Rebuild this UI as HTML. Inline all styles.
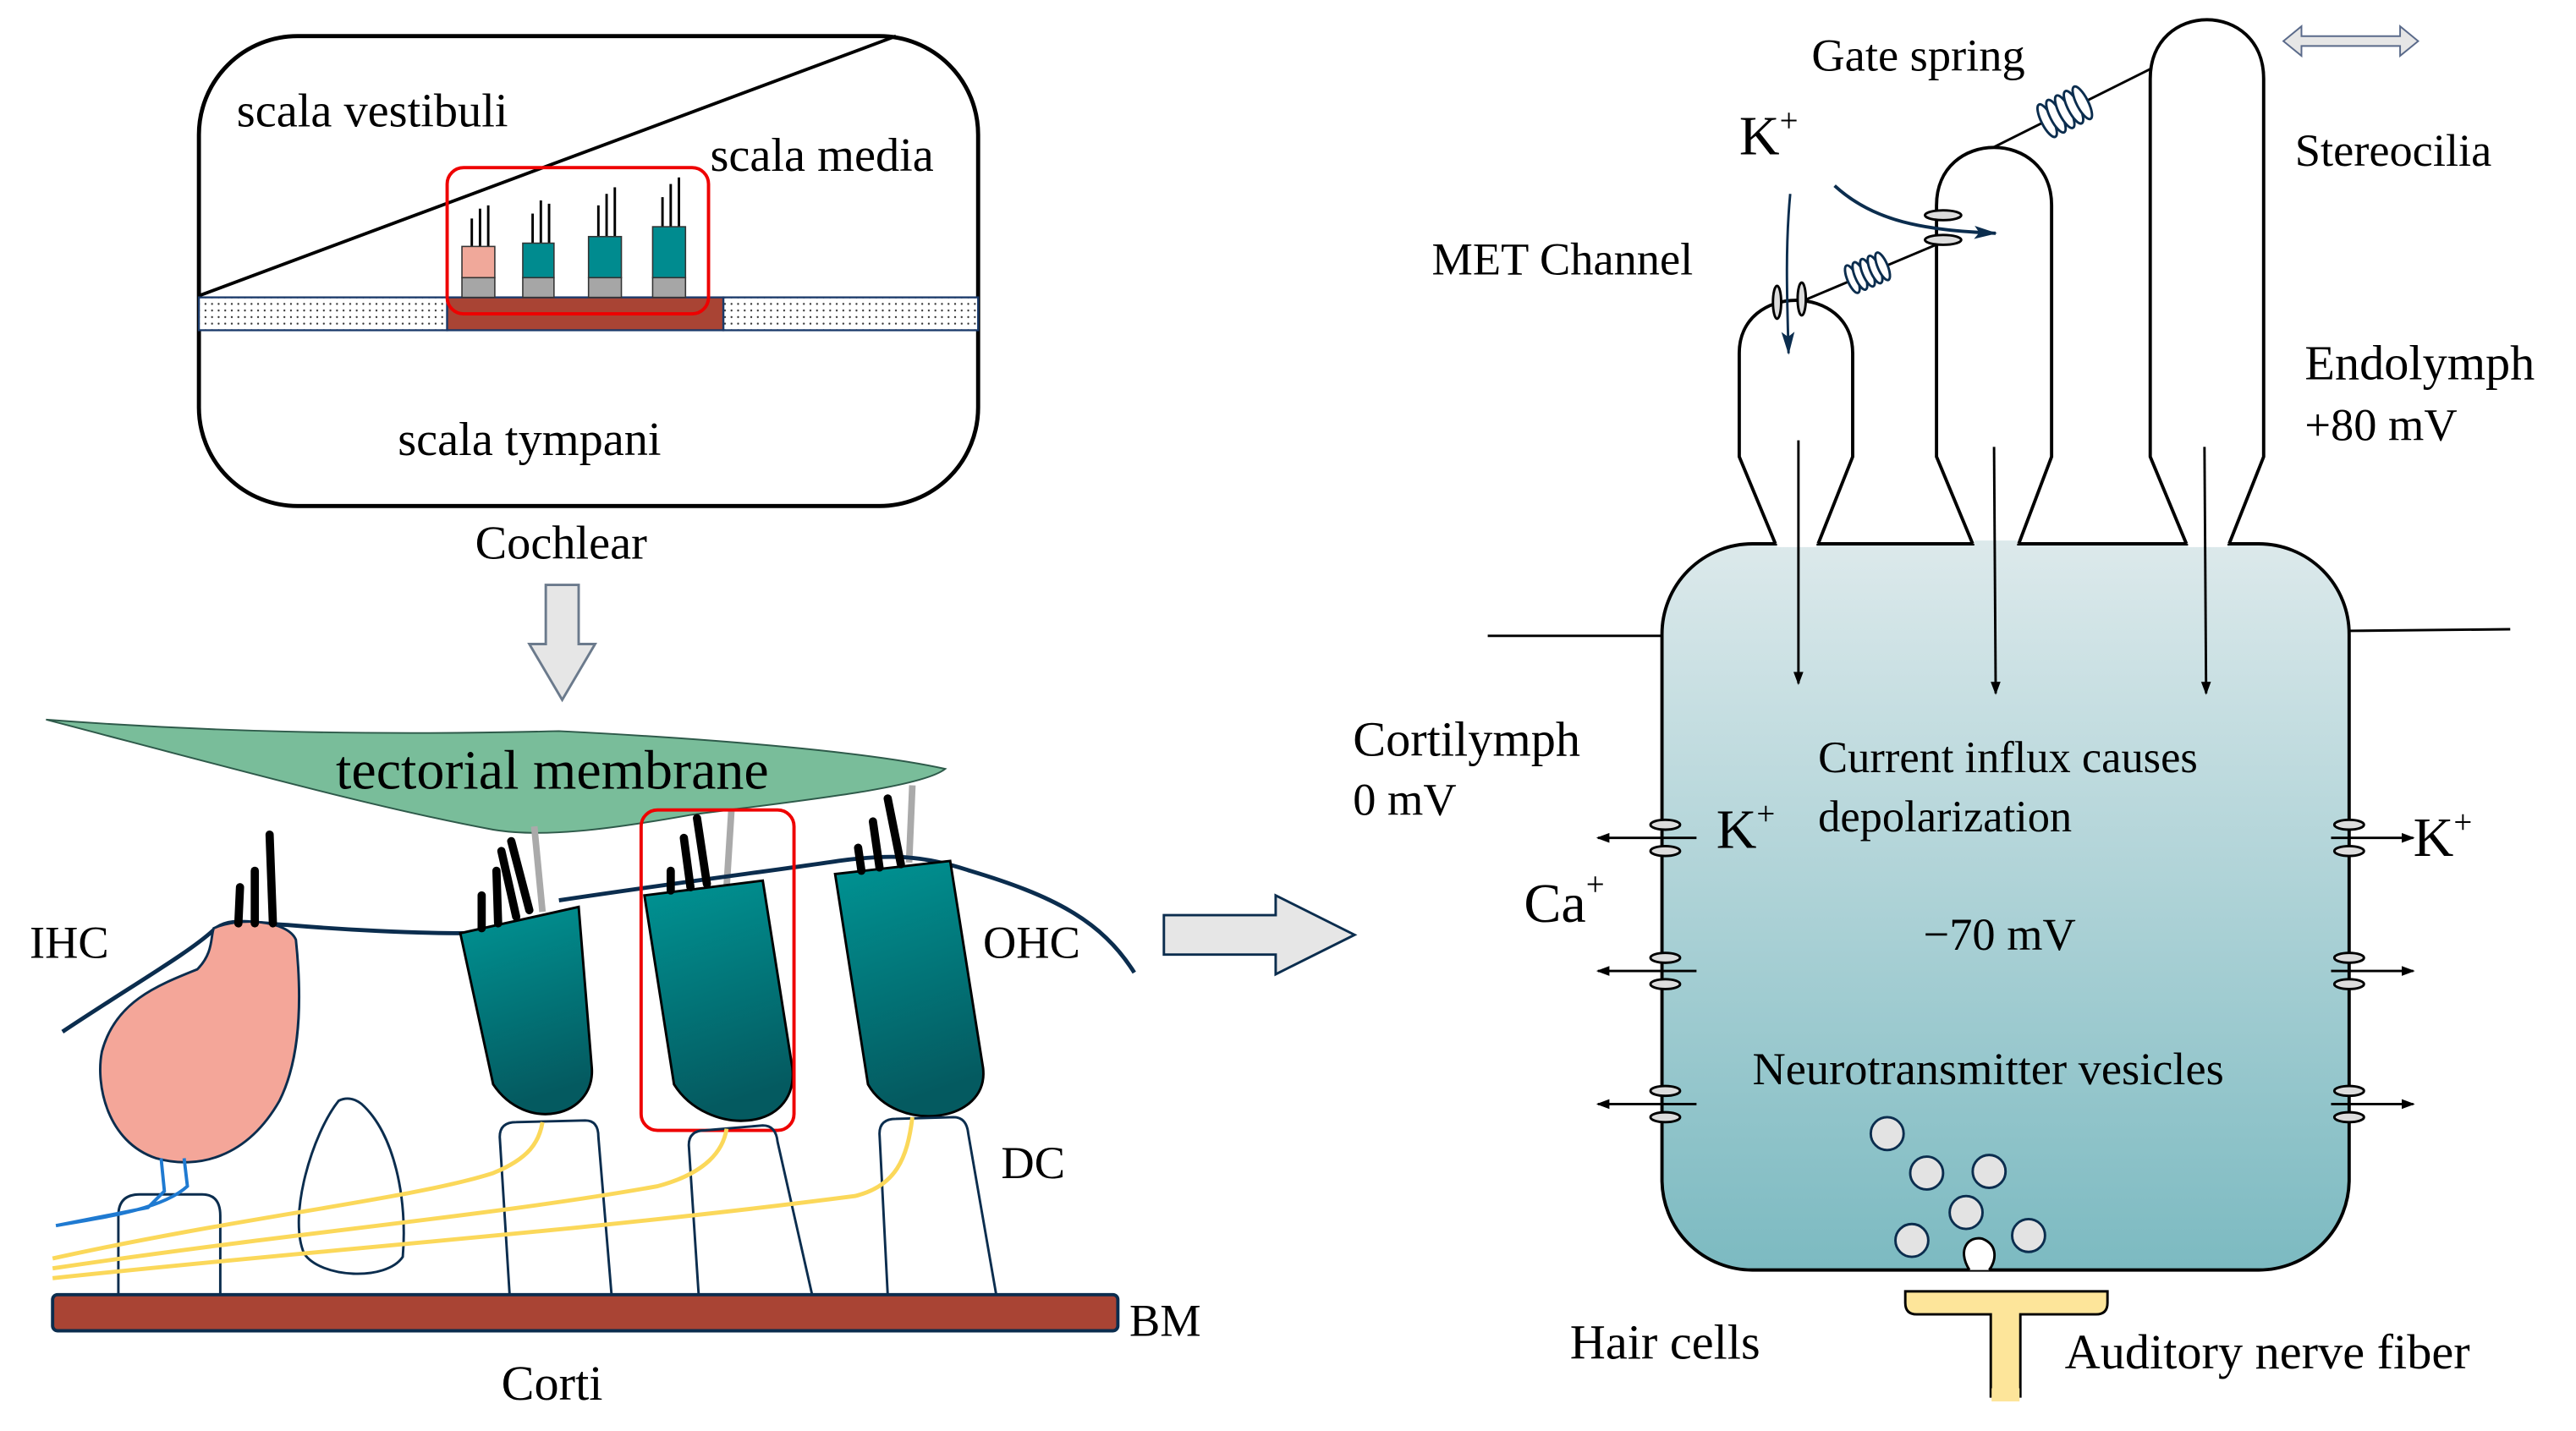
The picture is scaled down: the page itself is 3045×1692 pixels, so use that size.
<!DOCTYPE html>
<html><head><meta charset="utf-8"><style>html,body{margin:0;padding:0;background:#fff}svg{display:block}svg text{font-family:"Liberation Serif",serif}</style></head>
<body>
<svg width="3045" height="1692" viewBox="0 0 1567 871" preserveAspectRatio="none" xmlns="http://www.w3.org/2000/svg">
<defs>
<linearGradient id="cell" x1="0" y1="0" x2="0" y2="1"><stop offset="0" stop-color="#dce9eb"/><stop offset="1" stop-color="#7cbac1"/></linearGradient>
<linearGradient id="teal" x1="0" y1="0" x2="0.2" y2="1"><stop offset="0" stop-color="#009494"/><stop offset="1" stop-color="#045a60"/></linearGradient>
<pattern id="dots" width="4" height="4" patternUnits="userSpaceOnUse"><rect width="4" height="4" fill="#fff"/><circle cx="1" cy="1" r="0.6" fill="#333"/></pattern>
<marker id="ah" markerWidth="8" markerHeight="8" refX="7" refY="4" orient="auto" markerUnits="userSpaceOnUse"><path d="M0,1 L8,4 L0,7 z" fill="#000"/></marker>
<marker id="ahb" markerWidth="14" markerHeight="10" refX="13" refY="5" orient="auto" markerUnits="userSpaceOnUse"><path d="M0,1 L14,5 L0,9 L3,5 z" fill="#0b2d4e"/></marker>
</defs>

<!-- Cochlear box -->
<rect x="121" y="22" width="474" height="286" rx="60" fill="#fff" stroke="#000" stroke-width="2.5"/>
<line x1="121" y1="180" x2="545" y2="22" stroke="#000" stroke-width="2"/>
<rect x="121" y="181" width="151" height="20" fill="url(#dots)" stroke="#1a3a6a" stroke-width="1.2"/>
<rect x="440" y="181" width="155" height="20" fill="url(#dots)" stroke="#1a3a6a" stroke-width="1.2"/>
<rect x="272" y="181" width="168" height="20" fill="#a94434" stroke="#1a3a6a" stroke-width="1.2"/>
<g stroke="#000" stroke-width="1.5">
<line x1="287" y1="150" x2="287" y2="133"/><line x1="292" y1="150" x2="292" y2="127"/><line x1="297" y1="150" x2="297" y2="125"/>
<line x1="324" y1="148" x2="324" y2="130"/><line x1="329" y1="148" x2="329" y2="122"/><line x1="334" y1="148" x2="334" y2="124"/>
<line x1="364" y1="144" x2="364" y2="125"/><line x1="369" y1="144" x2="369" y2="118"/><line x1="374" y1="144" x2="374" y2="114"/>
<line x1="403" y1="138" x2="403" y2="120"/><line x1="408" y1="138" x2="408" y2="112"/><line x1="413" y1="138" x2="413" y2="108"/>
</g>
<rect x="281" y="150" width="20" height="19" fill="#f0a89a" stroke="#333" stroke-width="0.8"/>
<rect x="318" y="148" width="19" height="21" fill="#008b8f" stroke="#333" stroke-width="0.8"/>
<rect x="358" y="144" width="20" height="25" fill="#008b8f" stroke="#333" stroke-width="0.8"/>
<rect x="397" y="138" width="20" height="31" fill="#008b8f" stroke="#333" stroke-width="0.8"/>
<rect x="281" y="169" width="20" height="12" fill="#a6a6a6" stroke="#333" stroke-width="0.8"/>
<rect x="318" y="169" width="19" height="12" fill="#a6a6a6" stroke="#333" stroke-width="0.8"/>
<rect x="358" y="169" width="20" height="12" fill="#a6a6a6" stroke="#333" stroke-width="0.8"/>
<rect x="397" y="169" width="20" height="12" fill="#a6a6a6" stroke="#333" stroke-width="0.8"/>
<rect x="272" y="102" width="159" height="89" rx="10" fill="none" stroke="#e00" stroke-width="2"/>
<text x="144" y="77" font-size="29">scala vestibuli</text>
<text x="432" y="104" font-size="29">scala media</text>
<text x="242" y="277" font-size="29">scala tympani</text>
<text x="289" y="340" font-size="29">Cochlear</text>

<path d="M332,356 L352,356 L352,392 L362,392 L342,426 L322,392 L332,392 z" fill="#e6e6e6" stroke="#6b7a8c" stroke-width="1.5"/>

<path d="M28,438 C120,445 220,448 340,445 C440,450 530,458 575,468 C560,480 480,488 420,496 C370,505 330,510 300,505 C230,492 150,470 28,438 z" fill="#79bd9a" stroke="#2e5a4a" stroke-width="1"/>
<text x="336" y="480" font-size="34" text-anchor="middle">tectorial membrane</text>

<g stroke="#aaa" stroke-width="4">
<line x1="325" y1="503" x2="330" y2="555"/><line x1="445" y1="492" x2="442" y2="540"/><line x1="555" y1="478" x2="553" y2="525"/>
</g>

<path d="M38,628 C80,600 115,580 130,566 C140,558 150,562 175,563 C210,566 250,568 282,568 M340,548 C420,536 470,530 510,524 C540,520 560,520 590,530 C640,545 670,560 690,592" fill="none" stroke="#0b2d4e" stroke-width="2.5"/>

<path d="M130,565 C145,558 175,560 180,572 C185,620 180,650 170,670 C150,705 120,712 95,705 C65,695 58,660 62,640 C70,610 95,600 120,590 C130,580 128,570 130,565 z" fill="#f4a699" stroke="#0b2d4e" stroke-width="1.5"/>
<g stroke="#000" stroke-width="5" stroke-linecap="round">
<line x1="145" y1="562" x2="146" y2="540"/><line x1="155" y1="562" x2="155" y2="530"/><line x1="166" y1="562" x2="164" y2="508"/>
</g>
<g fill="url(#teal)" stroke="#000" stroke-width="1.5">
<path d="M280,568 L352,552 L360,650 C362,680 320,690 300,660 z" />
<path d="M392,545 L464,536 L482,650 C486,690 430,692 410,660 z" />
<path d="M508,532 L578,524 L598,650 C602,684 545,690 528,660 z" />
</g>
<g stroke="#000" stroke-width="5" stroke-linecap="round">
<line x1="293" y1="565" x2="293" y2="545"/><line x1="303" y1="562" x2="302" y2="530"/><line x1="314" y1="558" x2="305" y2="518"/>
<line x1="408" y1="542" x2="408" y2="530"/><line x1="420" y1="540" x2="416" y2="510"/><line x1="430" y1="538" x2="424" y2="498"/>
<line x1="524" y1="530" x2="522" y2="516"/><line x1="535" y1="528" x2="531" y2="500"/><line x1="548" y1="526" x2="540" y2="486"/>
<line x1="322" y1="554" x2="311" y2="512"/>
</g>
<rect x="390" y="493" width="93" height="195" rx="10" fill="none" stroke="#e00" stroke-width="2"/>

<g fill="none" stroke="#0b2d4e" stroke-width="1.5">
<path d="M72,788 L72,740 Q72,727 85,727 L123,727 Q134,727 134,740 L134,788"/>
<path d="M206,670 C190,690 175,740 185,763 C195,778 235,780 245,765 C248,730 240,690 220,672 C215,668 210,668 206,670 z"/>
<path d="M310,788 L304,692 Q304,683 314,683 L356,682 Q364,682 364,692 L372,788"/>
<path d="M425,788 L419,697 Q419,688 429,688 L464,685 Q472,685 473,695 L494,788"/>
<path d="M540,788 L535,690 Q535,681 545,681 L580,680 Q588,680 589,690 L606,788"/>
</g>
<path d="M98,705 L100,725 L90,735 L34,746 M112,705 L114,722 C100,735 70,740 34,746" fill="none" stroke="#1f7ad1" stroke-width="2"/>
<g fill="none" stroke="#fbd85a" stroke-width="2.5">
<path d="M32,766 C150,740 250,730 300,714 C322,705 328,695 330,683"/>
<path d="M32,772 C180,750 300,740 400,722 C430,714 440,700 442,687"/>
<path d="M32,778 C200,760 350,750 520,728 C545,722 552,705 555,680"/>
</g>
<rect x="32" y="788" width="648" height="22" rx="3" fill="#a94434" stroke="#0b2d4e" stroke-width="2"/>
<text x="18" y="583" font-size="28">IHC</text>
<text x="598" y="583" font-size="28">OHC</text>
<text x="609" y="717" font-size="28">DC</text>
<text x="687" y="813" font-size="28">BM</text>
<text x="305" y="852" font-size="30">Corti</text>

<path d="M708,557 L776,557 L776,545 L824,569 L776,593 L776,581 L708,581 z" fill="#e6e6e6" stroke="#0b2d4e" stroke-width="1.5"/>

<line x1="905" y1="387" x2="1012" y2="387" stroke="#000" stroke-width="1.5"/>
<line x1="1428" y1="384" x2="1527" y2="383" stroke="#000" stroke-width="1.5"/>
<rect x="1011" y="331" width="418" height="442" rx="55" fill="url(#cell)" stroke="#000" stroke-width="2"/>
<g fill="#fff" stroke="#000" stroke-width="2">
<path d="M1080,331 L1058,278 L1058,215 C1058,172 1127,172 1127,215 L1127,278 L1106,331"/>
<path d="M1200,331 L1178,278 L1178,125 C1178,78 1248,78 1248,125 L1248,278 L1228,331"/>
<path d="M1330,331 L1308,278 L1308,48 C1308,0 1377,0 1377,48 L1377,278 L1356,331"/>
</g>
<rect x="1081" y="329" width="24" height="4" fill="#fff"/><rect x="1201" y="329" width="26" height="4" fill="#dce9eb"/><rect x="1331" y="329" width="24" height="4" fill="#fff"/>
<g stroke="#000" stroke-width="1.5" marker-end="url(#ah)">
<line x1="1094" y1="268" x2="1094" y2="416"/><line x1="1213" y1="272" x2="1214" y2="422"/><line x1="1341" y1="272" x2="1342" y2="422"/>
</g>
<g fill="none" stroke="#000" stroke-width="1.5">
<line x1="1097" y1="183" x2="1180" y2="148"/>
<line x1="1212" y1="90" x2="1308" y2="42"/>
</g>
<g fill="#fff" stroke="#0b2d4e" stroke-width="1.5">
<g transform="translate(1136,166) rotate(-23)">
<ellipse cx="-10" cy="0" rx="3" ry="9"/><ellipse cx="-5" cy="0" rx="3" ry="9"/><ellipse cx="0" cy="0" rx="3" ry="9"/><ellipse cx="5" cy="0" rx="3" ry="9"/><ellipse cx="10" cy="0" rx="3" ry="9"/>
</g>
<g transform="translate(1256,68) rotate(-27)">
<ellipse cx="-12" cy="0" rx="3.5" ry="11"/><ellipse cx="-6" cy="0" rx="3.5" ry="11"/><ellipse cx="0" cy="0" rx="3.5" ry="11"/><ellipse cx="6" cy="0" rx="3.5" ry="11"/><ellipse cx="12" cy="0" rx="3.5" ry="11"/>
</g>
</g>
<g fill="#ddd" stroke="#000" stroke-width="1.5">
<ellipse cx="1081" cy="184" rx="2.5" ry="10"/><ellipse cx="1096" cy="182" rx="2.5" ry="10"/>
<ellipse cx="1182" cy="131" rx="11" ry="3"/><ellipse cx="1182" cy="146" rx="11" ry="3"/>
</g>
<path d="M1116,113 C1140,135 1170,140 1214,142" fill="none" stroke="#0b2d4e" stroke-width="2" marker-end="url(#ahb)"/>
<path d="M1089,118 C1086,150 1087,180 1088,215" fill="none" stroke="#0b2d4e" stroke-width="1.5" marker-end="url(#ahb)"/>
<path d="M1389,25 L1400,16 L1400,22 L1460,22 L1460,16 L1471,25 L1460,34 L1460,28 L1400,28 L1400,34 z" fill="#e6e6e6" stroke="#5a6a8a" stroke-width="1"/>

<g fill="#ddd" stroke="#000" stroke-width="1.5">
<ellipse cx="1013" cy="502" rx="9" ry="3"/><ellipse cx="1013" cy="518" rx="9" ry="3"/>
<ellipse cx="1013" cy="583" rx="9" ry="3"/><ellipse cx="1013" cy="599" rx="9" ry="3"/>
<ellipse cx="1013" cy="664" rx="9" ry="3"/><ellipse cx="1013" cy="680" rx="9" ry="3"/>
<ellipse cx="1429" cy="502" rx="9" ry="3"/><ellipse cx="1429" cy="518" rx="9" ry="3"/>
<ellipse cx="1429" cy="583" rx="9" ry="3"/><ellipse cx="1429" cy="599" rx="9" ry="3"/>
<ellipse cx="1429" cy="664" rx="9" ry="3"/><ellipse cx="1429" cy="680" rx="9" ry="3"/>
</g>
<g stroke="#000" stroke-width="1.5" marker-end="url(#ah)">
<line x1="1032" y1="510" x2="972" y2="510"/><line x1="1032" y1="591" x2="972" y2="591"/><line x1="1032" y1="672" x2="972" y2="672"/>
<line x1="1418" y1="510" x2="1468" y2="510"/><line x1="1418" y1="591" x2="1468" y2="591"/><line x1="1418" y1="672" x2="1468" y2="672"/>
</g>
<g fill="#e3e3e3" stroke="#0b2d4e" stroke-width="1.5">
<circle cx="1148" cy="690" r="10"/><circle cx="1172" cy="714" r="10"/><circle cx="1210" cy="713" r="10"/>
<circle cx="1196" cy="738" r="10"/><circle cx="1163" cy="755" r="10"/><circle cx="1234" cy="752" r="10"/>
</g>
<path d="M1198,773 C1190,760 1198,752 1206,754 C1216,758 1214,768 1210,773" fill="#fff" stroke="#000" stroke-width="1.5"/>
<path d="M1159,786 L1282,786 L1282,793 Q1282,800 1275,800 L1229,800 L1229,850 L1211,850 L1211,800 L1166,800 Q1159,800 1159,793 z" fill="#fde59a" stroke="#000" stroke-width="1.5"/>
<rect x="1211.5" y="845" width="17" height="8" fill="#fde59a"/>

<text x="1102" y="43" font-size="28">Gate spring</text>
<text x="1058" y="94" font-size="34">K<tspan font-size="20" dy="-14">+</tspan></text>
<text x="1396" y="101" font-size="28">Stereocilia</text>
<text x="871" y="167" font-size="28">MET Channel</text>
<text x="1402" y="231" font-size="30">Endolymph</text>
<text x="1402" y="268" font-size="28">+80 mV</text>
<text x="823" y="460" font-size="30">Cortilymph</text>
<text x="823" y="496" font-size="28">0 mV</text>
<text x="1106" y="470" font-size="27">Current influx causes</text>
<text x="1106" y="506" font-size="27">depolarization</text>
<text x="1044" y="516" font-size="34">K<tspan font-size="20" dy="-14">+</tspan></text>
<text x="1468" y="521" font-size="34">K<tspan font-size="20" dy="-14">+</tspan></text>
<text x="927" y="561" font-size="34">Ca<tspan font-size="20" dy="-16">+</tspan></text>
<text x="1170" y="578" font-size="28">−70 mV</text>
<text x="1066" y="660" font-size="28">Neurotransmitter vesicles</text>
<text x="955" y="827" font-size="30">Hair cells</text>
<text x="1256" y="833" font-size="30">Auditory nerve fiber</text>
</svg>
</body></html>
